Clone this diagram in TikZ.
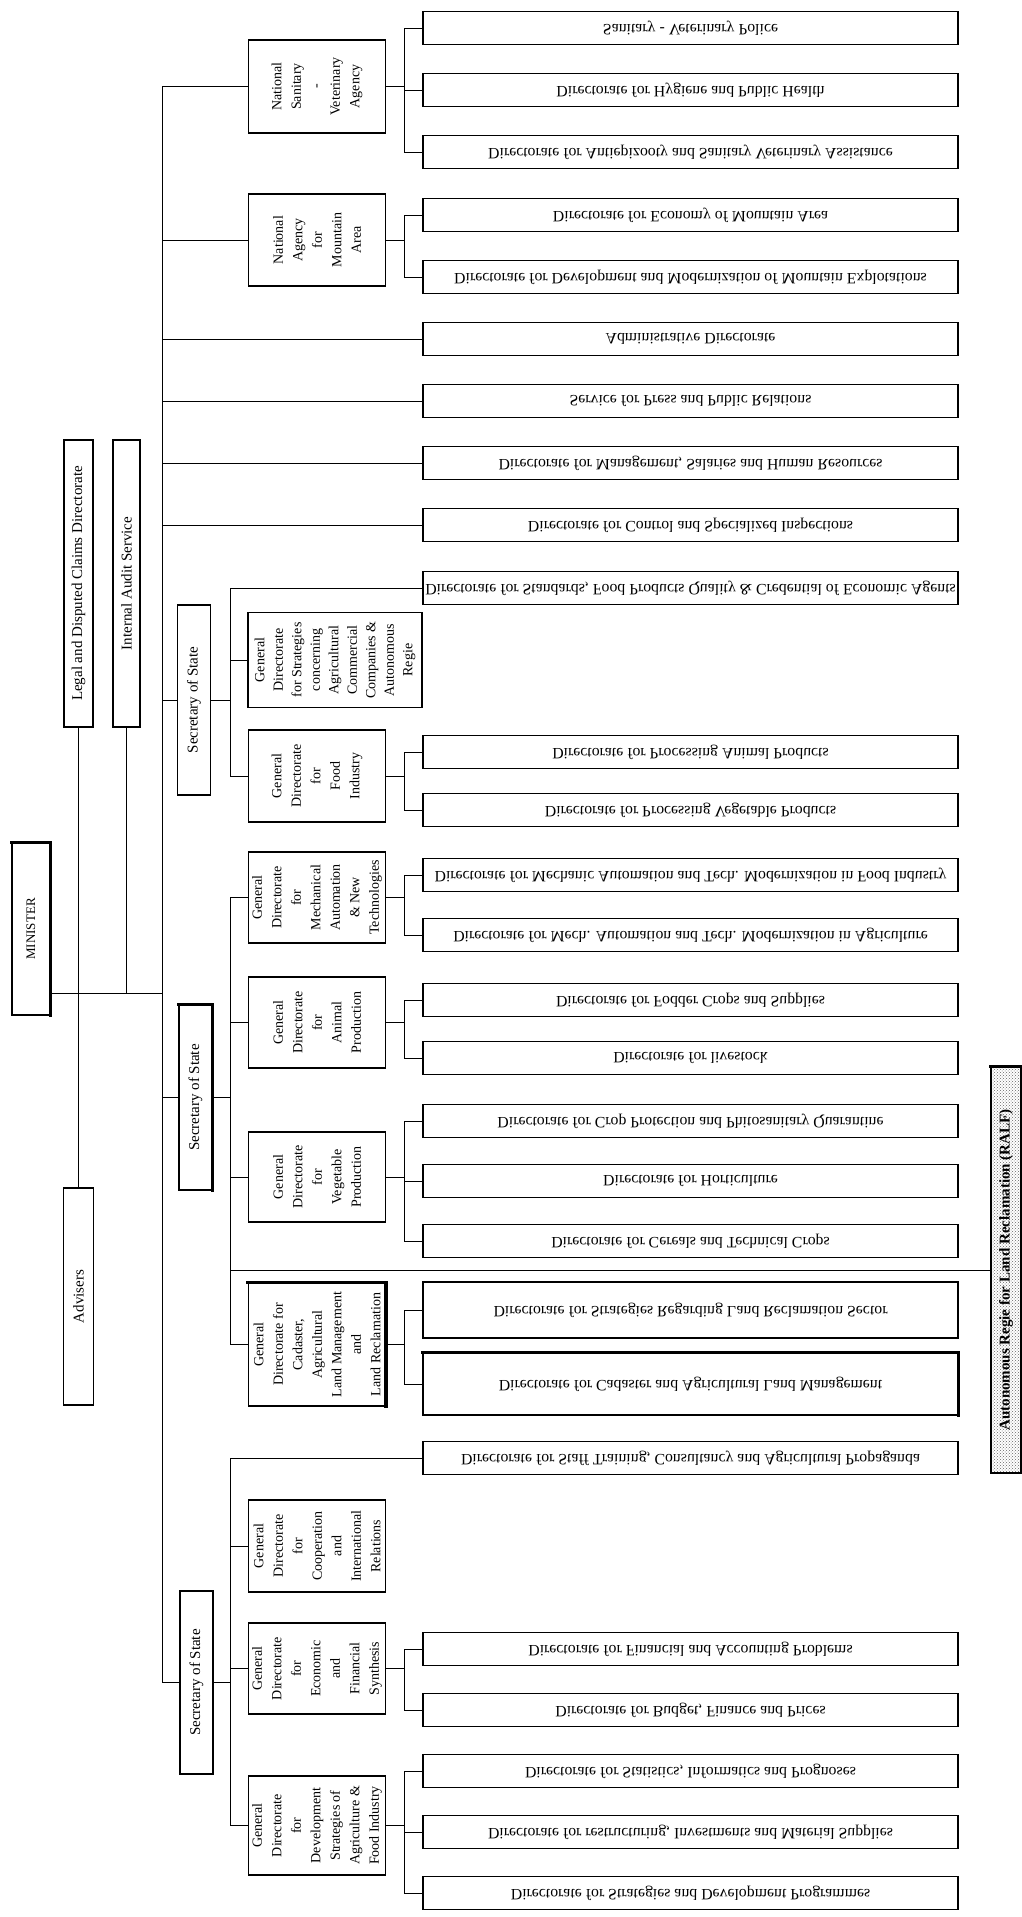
\documentclass[tikz,border=0pt]{standalone}
\usepackage{fontspec}
\setmainfont{Liberation Serif}
\usepackage{tikz}
\usetikzlibrary{patterns}
\tikzset{dirbox/.style={draw,line width=1.2pt,minimum width=535pt,minimum height=33pt,inner sep=0pt,yscale=-1,font=\fontsize{15.8}{18}\selectfont},
         gdbox/.style={draw,line width=1.2pt,rotate=90,minimum height=137pt,inner sep=0pt,align=center,font=\fontsize{14}{19.5}\selectfont},
         secbox/.style={draw,line width=1.2pt,rotate=90,minimum height=33pt,inner sep=0pt,font=\fontsize{15}{18}\selectfont},
         heavy/.style={line width=3.5pt,line cap=rect},
         link/.style={line width=1pt}}

\begin{document}
\begin{tikzpicture}[x=1pt,y=-1pt]
\fill[white](0,0) rectangle (1022,1917);
\useasboundingbox(0,0) rectangle (1022,1917);
\coordinate (tk) at (162,0);
\coordinate (sx) at (230,0);
\coordinate (subx) at (404,0);

\node[secbox,minimum width=172pt,minimum height=38pt,font=\fontsize{13}{16}\selectfont] (minister) at (31,929) {MINISTER};
\node[secbox,minimum width=287pt,minimum height=29pt] (legal) at (78.5,583.5) {Legal and Disputed Claims Directorate};
\node[secbox,minimum width=287pt,minimum height=27pt] (audit) at (126.5,583.5) {Internal Audit Service};
\node[secbox,minimum width=217pt,minimum height=30pt] (advisers) at (78.5,1296.5) {Advisers};
\node[secbox,minimum width=190pt] (sec1) at (194,700) {Secretary of State};
\node[secbox,minimum width=185pt] (sec2) at (195.5,1097.5) {Secretary of State};
\node[secbox,minimum width=183pt] (sec3) at (196.5,1682.5) {Secretary of State};

\node[gdbox,minimum width=93pt] (natsan) at (317,86.5) {National\\Sanitary\\-\\Veterinary\\Agency};
\node[gdbox,minimum width=92pt] (mount) at (317,240) {National\\Agency\\for\\Mountain\\Area};
\node[gdbox,minimum width=95pt,minimum height=174pt,font=\fontsize{14}{18.5}\selectfont] (gdstrat) at (335,660) {General\\Directorate\\for Strategies\\concerning\\Agricultural\\Commercial\\Companies \&\\Autonomous\\Regie};
\node[gdbox,minimum width=92pt] (gdfood) at (317,776) {General\\Directorate\\for\\Food\\Industry};
\node[gdbox,minimum width=91pt] (gdmech) at (317,897.5) {General\\Directorate\\for\\Mechanical\\Automation\\\& New\\Technologies};
\node[gdbox,minimum width=91pt] (gdanim) at (317,1022.5) {General\\Directorate\\for\\Animal\\Production};
\node[gdbox,minimum width=90pt] (gdveg) at (317,1177) {General\\Directorate\\for\\Vegetable\\Production};
\node[gdbox,minimum width=123pt] (gdland) at (317,1344.5) {General\\Directorate for\\Cadaster,\\Agricultural\\Land Management\\and\\Land Reclamation};
\node[gdbox,minimum width=92pt] (gdcoop) at (317,1546) {General\\Directorate\\for\\Cooperation\\and\\International\\Relations};
\node[gdbox,minimum width=91pt] (gdecon) at (317,1668.5) {General\\Directorate\\for\\Economic\\and\\Financial\\Synthesis};
\node[gdbox,minimum width=99pt] (gddev) at (317,1825.5) {General\\Directorate\\for\\Development\\Strategies of\\Agriculture \&\\Food Industry};

\node[dirbox] (sanpol) at (690.5,28) {Sanitary - Veterinary Police};
\node[dirbox] (hyg) at (690.5,90) {Directorate for Hygiene and Public Health};
\node[dirbox] (antiepi) at (690.5,152) {Directorate for Antiepizooty and Sanitary Veterinary Assistance};
\node[dirbox] (econmount) at (690.5,215) {Directorate for Economy of Mountain Area};
\node[dirbox] (devmount) at (690.5,277) {Directorate for Development and Modernization of Mountain Explotations};
\node[dirbox] (admin) at (690.5,339) {Administrative Directorate};
\node[dirbox] (press) at (690.5,401) {Service for Press and Public Relations};
\node[dirbox] (salaries) at (690.5,463) {Directorate for Management, Salaries and Human Resources};
\node[dirbox] (control) at (690.5,525) {Directorate for Control and Specialized Inspections};
\node[dirbox] (standards) at (690.5,588) {Directorate for Standards, Food Products Quality \& Credential of Economic Agents};
\node[dirbox] (procanim) at (690.5,752) {Directorate for Processing Animal Products};
\node[dirbox] (procveg) at (690.5,810) {Directorate for Processing Vegetable Products};
\node[dirbox] (mechfood) at (690.5,875) {Directorate for Mechanic Automation and Tech. Modernization in Food Industry};
\node[dirbox] (mechagri) at (690.5,935) {Directorate for Mech. Automation and Tech. Modernization in Agriculture};
\node[dirbox] (fodder) at (690.5,1000) {Directorate for Fodder Crops and Supplies};
\node[dirbox] (livestock) at (690.5,1058) {Directorate for livestock};
\node[dirbox] (cropprot) at (690.5,1121) {Directorate for Crop Protection and Phitosanitary Quarantine};
\node[dirbox] (hortic) at (690.5,1181) {Directorate for Horticulture};
\node[dirbox] (cereals) at (690.5,1241) {Directorate for Cereals and Technical Crops};
\node[dirbox,minimum height=56pt] (landstrat) at (690.5,1310) {Directorate for Strategies Regarding Land Reclamation Sector};
\node[dirbox,minimum height=62pt] (cadaster) at (690.5,1384) {Directorate for Cadaster and Agricultural Land Management};
\node[dirbox] (staff) at (690.5,1458) {Directorate for Staff Training, Consultancy and Agricultural Propaganda};
\node[dirbox] (financial) at (690.5,1649) {Directorate for Financial and Accounting Problems};
\node[dirbox] (budget) at (690.5,1710) {Directorate for Budget, Finance and Prices};
\node[dirbox] (statistics) at (690.5,1771) {Directorate for Statistics, Informatics and Prognoses};
\node[dirbox] (restruct) at (690.5,1832) {Directorate for restructuring, Investments and Material Supplies};
\node[dirbox] (progr) at (690.5,1893) {Directorate for Strategies and Development Programmes};

\node[secbox,minimum width=406pt,minimum height=30pt,pattern=crosshatch dots,pattern color=black!60,font=\fontsize{15}{18}\selectfont\bfseries] (ralf) at (1006,1270) {Autonomous Regie for Land Reclamation (RALF)};

\coordinate (mlink) at ([yshift=22pt]minister.south west);
\draw[link](mlink) -- (mlink -| tk);
\draw[link](legal) -- (advisers);
\draw[link](audit) -- (audit |- mlink);
\draw[link](natsan -| tk) -- (sec3 -| tk);
\draw[link](natsan) -- (natsan -| tk);
\draw[link](mount) -- (mount -| tk);
\draw[link](admin) -- (admin -| tk);
\draw[link](press) -- (press -| tk);
\draw[link](salaries) -- (salaries -| tk);
\draw[link](control) -- (control -| tk);
\draw[link](sec1) -- (sec1 -| tk);
\draw[link](sec2) -- (sec2 -| tk);
\draw[link](sec3) -- (sec3 -| tk);

\draw[link](sec1) -- (sec1 -| sx);
\draw[link](standards.west) -- (standards.west -| sx) -- (gdfood -| sx) -- (gdfood);
\draw[link](gdstrat) -- (gdstrat -| sx);
\draw[link](sec2) -- (sec2 -| sx);
\draw[link](gdmech) -- (gdmech -| sx) -- (gdland -| sx) -- (gdland);
\draw[link](gdanim) -- (gdanim -| sx);
\draw[link](gdveg) -- (gdveg -| sx);
\draw[link](ralf) -- (ralf -| sx);
\draw[link](sec3) -- (sec3 -| sx);
\draw[link](staff.west) -- (staff.west -| sx) -- (gddev -| sx) -- (gddev);
\draw[link](gdcoop) -- (gdcoop -| sx);
\draw[link](gdecon) -- (gdecon -| sx);

\draw[link](natsan) -- (natsan -| subx);
\draw[link](sanpol.west) -- (sanpol.west -| subx) -- (antiepi.west -| subx) -- (antiepi.west);
\draw[link](hyg.west) -- (hyg.west -| subx);
\draw[link](mount) -- (mount -| subx);
\draw[link](econmount.west) -- (econmount.west -| subx) -- (devmount.west -| subx) -- (devmount.west);
\draw[link](gdfood) -- (gdfood -| subx);
\draw[link](procanim.west) -- (procanim.west -| subx) -- (procveg.west -| subx) -- (procveg.west);
\draw[link](gdmech) -- (gdmech -| subx);
\draw[link](mechfood.west) -- (mechfood.west -| subx) -- (mechagri.west -| subx) -- (mechagri.west);
\draw[link](gdanim) -- (gdanim -| subx);
\draw[link](fodder.west) -- (fodder.west -| subx) -- (livestock.west -| subx) -- (livestock.west);
\draw[link](gdveg) -- (gdveg -| subx);
\draw[link](cropprot.west) -- (cropprot.west -| subx) -- (cereals.west -| subx) -- (cereals.west);
\draw[link](hortic.west) -- (hortic.west -| subx);
\draw[link](gdland) -- (gdland -| subx);
\draw[link](landstrat.west) -- (landstrat.west -| subx) -- (cadaster.west -| subx) -- (cadaster.west);
\draw[link](gdecon) -- (gdecon -| subx);
\draw[link](financial.west) -- (financial.west -| subx) -- (budget.west -| subx) -- (budget.west);
\draw[link](gddev) -- (gddev -| subx);
\draw[link](statistics.west) -- (statistics.west -| subx) -- (progr.west -| subx) -- (progr.west);
\draw[link](restruct.west) -- (restruct.west -| subx);

\draw[heavy](minister.north east) -- (minister.south east) -- (minister.south west);
\draw[heavy](sec2.north east) -- (sec2.south east) -- (sec2.south west);
\draw[heavy](gdland.north east) -- (gdland.south east) -- (gdland.south west);
\draw[heavy](cadaster.south west) -- (cadaster.south east) -- (cadaster.north east);
\draw[heavy](ralf.north east) -- (ralf.south east);
\end{tikzpicture}
\end{document}
